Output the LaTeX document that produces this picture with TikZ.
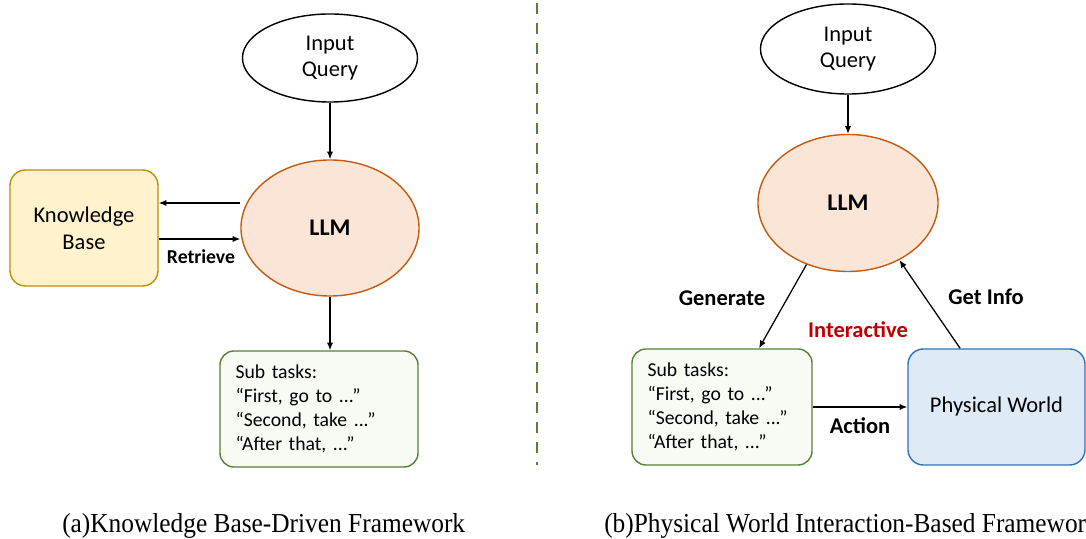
\documentclass[tikz,border=0pt]{standalone}
\usepackage{fontspec}
\setmainfont{Carlito}
\newfontfamily\capfont[FakeStretch=0.925]{Liberation Serif}
\usepackage{tikz}
\usetikzlibrary{shapes.geometric,arrows.meta}

\definecolor{llmfill}{HTML}{FBE5D6}
\definecolor{llmline}{HTML}{C55A11}
\definecolor{kbfill}{HTML}{FFF2CC}
\definecolor{kbline}{HTML}{BF9000}
\definecolor{subfill}{HTML}{F8FBF4}
\definecolor{subline}{HTML}{538135}
\definecolor{pwfill}{HTML}{DEEBF7}
\definecolor{pwline}{HTML}{2E75B6}
\definecolor{sepline}{HTML}{548235}
\definecolor{hotred}{HTML}{C00000}

\begin{document}
\begin{tikzpicture}[x=0.025cm,y=0.025cm,
    txt/.style={font=\fontsize{16}{19}\selectfont},
    lbl/.style={font=\fontsize{16}{19}\selectfont\bfseries},
    query/.style={ellipse,draw,line width=1pt,txt,align=center,inner sep=0pt},
    llm/.style={ellipse,draw=llmline,fill=llmfill,line width=1pt,inner sep=0pt,
        font=\fontsize{17}{20}\selectfont\bfseries},
    subtask/.style={draw=subline,fill=subfill,line width=1pt,rounded corners=10pt,
        minimum height=2.9cm,inner xsep=0.39cm,align=left,
        font=\fontsize{14}{17}\selectfont},
    arr/.style={-{Latex[length=5.5pt,width=4.5pt]},line width=0.9pt},
    caption/.style={font=\capfont\fontsize{19.5}{22}\selectfont,anchor=base west,inner sep=0pt}]
  \useasboundingbox (0,0) rectangle (1086,539);

  % (a) knowledge base side
  \node[query,minimum width=4.375cm,minimum height=2.2cm] (qa) at (330,481) {Input\\Query};
  \node[llm,minimum width=4.45cm,minimum height=3.4cm] (llma) at (330,311) {LLM};
  \node[draw=kbline,fill=kbfill,line width=1pt,rounded corners=11pt,
        minimum width=3.7cm,minimum height=2.9cm,txt,align=center] (kb) at (84,311) {Knowledge\\Base};
  \node[subtask,text width=4.95cm-0.78cm] (suba) at (319,130)
      {Sub tasks:\\``First, go to ...''\\``Second, take ...''\\``After that, ...''};

  \draw[arr] (qa.south) -- (llma.north);
  \draw[arr] ([yshift=0.625cm]llma.west) -- ([yshift=0.625cm]kb.east);
  \draw[arr] ([yshift=-0.275cm]kb.east) -- ([yshift=-0.275cm]llma.west);
  \draw[arr] (llma.south) -- (llma.south |- suba.north);
  \node[lbl,font=\fontsize{14}{17}\selectfont\bfseries] (retr) at (201,282) {Retrieve};

  % separator
  \draw[sepline,line width=1.8pt,dash pattern=on 7.8pt off 6.4pt] (537,536) -- (537,74);

  % (b) physical world side
  \node[query,minimum width=4.375cm,minimum height=2.25cm] (qb) at (848,490) {Input\\Query};
  \node[llm,minimum width=4.5cm,minimum height=3.425cm] (llmb) at (848,336) {LLM};
  \node[subtask,text width=4.5cm-0.78cm] (subb) at (722,132)
      {Sub tasks:\\``First, go to ...''\\``Second, take ...''\\``After that, ...''};
  \node[draw=pwline,fill=pwfill,line width=1pt,rounded corners=11pt,
        minimum width=4.425cm,minimum height=2.9cm,txt] (pw) at (996.5,132) {Physical World};

  \draw[arr] (qb.south) -- (llmb.north);
  \draw[arr] (llmb.236) -- ([xshift=0.925cm]subb.north);
  \draw[arr] ([xshift=-0.91cm]pw.north) -- (llmb.312);
  \draw[arr] (subb.east) -- (pw.west);

  \node[lbl] (gen) at (722,241) {Generate};
  \node[lbl] (info) at (986,242) {Get Info};
  \node[lbl,text=hotred] (inter) at (858,209) {Interactive};
  \node[lbl] (act) at (860,113) {Action};

  % captions
  \node[caption] (capa) at (62,6) {(a)Knowledge Base-Driven Framework};
  \node[caption] (capb) at (604,6) {(b)Physical World Interaction-Based Framework};
\end{tikzpicture}
\end{document}
